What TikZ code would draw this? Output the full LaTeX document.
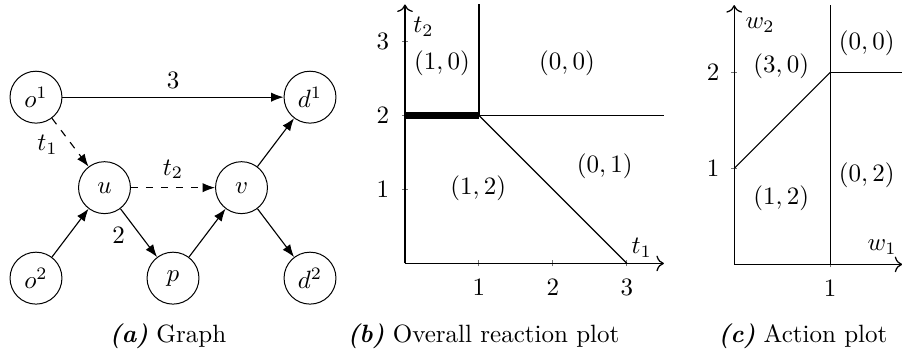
\documentclass[tikz,border=0pt]{standalone}
\usepackage{tikz}
\usetikzlibrary{arrows.meta,positioning}

\begin{document}
\begin{tikzpicture}[x=1cm,y=1cm]
  \tikzset{
    vert/.style={draw=black, circle, minimum size=0.73cm, inner sep=0pt},
    edge/.style={-{Latex[length=5pt]}, line width=0.45pt},
    route/.style={edge, dashed},
    axis/.style={-{To[length=3pt]}, line width=0.5pt},
    tickmark/.style={black!55, line width=0.4pt},
    bound/.style={black, line width=0.45pt},
    subcap/.style={anchor=base, font=\normalsize}
  }
  \useasboundingbox (0,0) rectangle (12.68,5.02);

  % Graph
  \begin{scope}[shift={(0.506,1.110)}, x=0.963cm, y=1.272cm]
    \node[vert] (o1) at (0,2) {$o^1$};
    \node[vert] (o2) at (0,0) {$o^2$};
    \node[vert] (u) at (1,1) {$u$};
    \node[vert] (p) at (2,0) {$p$};
    \node[vert] (v) at (3,1) {$v$};
    \node[vert] (d1) at (4,2) {$d^1$};
    \node[vert] (d2) at (4,0) {$d^2$};

    \draw[edge] (o1) -- node[above] {$3$} (d1);
    \draw[route] (o1) -- node[left, xshift=-1.5pt, yshift=-1pt] {$t_1$} (u);
    \draw[route] (u) -- node[above] {$t_2$} (v);
    \draw[edge] (o2) -- (u);
    \draw[edge] (u) -- node[left, xshift=-2pt, yshift=-1pt] {$2$} (p);
    \draw[edge] (p) -- (v);
    \draw[edge] (v) -- (d1);
    \draw[edge] (v) -- (d2);
  \end{scope}

  % Overall reaction plot
  \begin{scope}[shift={(5.693,1.317)}, x=1.04cm, y=1.04cm]
    \coordinate (bO) at (0,0);
    \coordinate (bK) at (1,2);
    \foreach \i in {1,2,3} {
      \draw[tickmark] (\i,-0.04) -- (\i,0.04);
      \draw[tickmark] (-0.04,\i) -- (0.04,\i);
      \node (bx\i) at (\i,-0.33) {$\i$};
      \node (by\i) at (-0.30,\i) {$\i$};
    }
    \draw[axis] (bO) -- (3.5,0);
    \draw[axis] (bO) -- (0,3.5);
    \draw[line width=2.6pt] (0,2) -- (bK);
    \draw[bound] (bK) -- (1,3.5);
    \draw[bound] (bK) -- (3.5,2);
    \draw[bound] (bK) -- (3,0);
    \node (bt1) at (3.2,0.21) {$t_1$};
    \node (bt2) at (0.25,3.2) {$t_2$};
    \node (b10) at (0.50,2.70) {$(1,0)$};
    \node (b00) at (2.19,2.70) {$(0,0)$};
    \node (b01) at (2.70,1.31) {$(0,1)$};
    \node (b12) at (0.99,1.02) {$(1,2)$};
  \end{scope}

  % Action plot
  \begin{scope}[shift={(10.321,1.303)}, x=1.35cm, y=1.35cm]
    \coordinate (cO) at (0,0);
    \coordinate (cK) at (1,2);
    \draw[tickmark] (1,-0.03) -- (1,0.03);
    \node (cx1) at (1,-0.25) {$1$};
    \foreach \i in {1,2} {
      \draw[tickmark] (-0.03,\i) -- (0.03,\i);
      \node (cy\i) at (-0.22,\i) {$\i$};
    }
    \draw[axis] (cO) -- (1.75,0);
    \draw[axis] (cO) -- (0,2.7);
    \draw[bound] (1,0) -- (1,2.7);
    \draw[bound] (cK) -- (1.75,2);
    \draw[bound] (0,1) -- (cK);
    \node (cw1) at (1.54,0.18) {$w_1$};
    \node (cw2) at (0.27,2.49) {$w_2$};
    \node (c00) at (1.38,2.30) {$(0,0)$};
    \node (c30) at (0.49,2.06) {$(3,0)$};
    \node (c02) at (1.38,0.93) {$(0,2)$};
    \node (c12) at (0.49,0.69) {$(1,2)$};
  \end{scope}

  % Captions
  \node[subcap] (capa) at (2.361,0.211) {\textbf{\textit{(a)}} Graph};
  \node[subcap] (capb) at (6.796,0.211) {\textbf{\textit{(b)}} Overall reaction plot};
  \node[subcap] (capc) at (11.287,0.211) {\textbf{\textit{(c)}} Action plot};
\end{tikzpicture}
\end{document}
